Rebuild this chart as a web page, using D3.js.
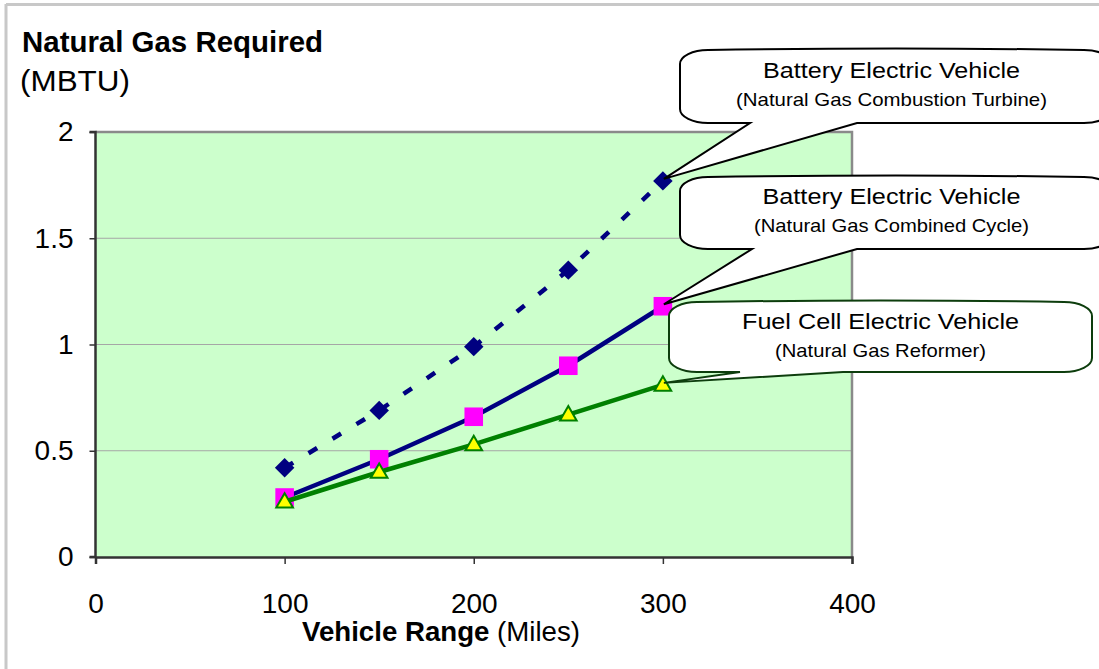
<!DOCTYPE html>
<html>
<head>
<meta charset="utf-8">
<script src="https://cdn.jsdelivr.net/npm/d3@7"></script>
<style>
  html, body { margin: 0; padding: 0; background: #fff; }
  svg { display: block; font-family: "Liberation Sans", Arial, sans-serif; }
</style>
</head>
<body>
<svg id="chart" width="1099" height="669"></svg>
<script>
// ---- data ----
const ranges = [100, 150, 200, 250, 300];
const turbine = [0.42, 0.69, 0.99, 1.35, 1.77];
const combinedCycle = [0.28, 0.46, 0.66, 0.90, 1.18];
const reformer = [0.26, 0.40, 0.53, 0.67, 0.81];
const xTicks = [0, 100, 200, 300, 400];
const yTicks = [0, 0.5, 1, 1.5, 2];
const yTickLabels = ["0", "0.5", "1", "1.5", "2"];
const calloutTitles = ["Battery Electric Vehicle", "Battery Electric Vehicle", "Fuel Cell Electric Vehicle"];
const calloutSubs = ["(Natural Gas Combustion Turbine)", "(Natural Gas Combined Cycle)", "(Natural Gas Reformer)"];

const svg = d3.select("#chart");
const plot = { left: 95.5, right: 852, top: 132, bottom: 557 };
const x = d3.scaleLinear().domain([0, 400]).range([plot.left, plot.right]);
const y = d3.scaleLinear().domain([0, 2]).range([plot.bottom, plot.top]);

// outer border
svg.append("line").attr("x1", 6).attr("x2", 6).attr("y1", 4).attr("y2", 669)
  .attr("stroke", "#c8c8c8").attr("stroke-width", 3);
svg.append("line").attr("x1", 6).attr("x2", 1099).attr("y1", 4.5).attr("y2", 4.5)
  .attr("stroke", "#c8c8c8").attr("stroke-width", 3);

// plot background
svg.append("rect").attr("x", plot.left).attr("y", plot.top)
  .attr("width", plot.right - plot.left).attr("height", plot.bottom - plot.top)
  .attr("fill", "#CCFFCC");

// gridlines
svg.append("g").selectAll("line").data(yTicks.filter(v => v > 0 && v < 2)).join("line")
  .attr("x1", plot.left).attr("x2", plot.right)
  .attr("y1", d => y(d)).attr("y2", d => y(d))
  .attr("stroke", "#a6a6a6").attr("stroke-width", 1.2);

// top & right border
svg.append("path")
  .attr("d", `M${plot.left},${y(2)} H${plot.right} V${plot.bottom}`)
  .attr("fill", "none").attr("stroke", "#8a8a8a").attr("stroke-width", 2.5);

// axes
const yAxis = d3.axisLeft(y).tickValues(yTicks).tickFormat((d, i) => yTickLabels[i])
  .tickSize(6).tickPadding(16);
const gy = svg.append("g").attr("transform", `translate(${plot.left},0)`).call(yAxis);
const xAxis = d3.axisBottom(x).tickValues(xTicks).tickFormat(d3.format("d"))
  .tickSize(7).tickPadding(29);
const gx = svg.append("g").attr("transform", `translate(0,${plot.bottom})`).call(xAxis);
[gx, gy].forEach(g => {
  g.select(".domain").attr("stroke", "#333").attr("stroke-width", 2.5);
  g.selectAll(".tick line").attr("stroke", "#333").attr("stroke-width", 1.5);
  g.selectAll(".tick text").attr("fill", "#000").attr("font-size", 28)
    .attr("font-family", "'Liberation Sans', Arial, sans-serif");
});
gy.select(".domain").attr("d", `M-6,${plot.top}H0V${plot.bottom}H-6`);

// titles
svg.append("text").attr("x", 22).attr("y", 52).attr("font-size", 29).attr("font-weight", "bold")
  .attr("textLength", 301).attr("lengthAdjust", "spacingAndGlyphs")
  .text("Natural Gas Required");
svg.append("text").attr("x", 20).attr("y", 91).attr("font-size", 30)
  .attr("textLength", 110).attr("lengthAdjust", "spacingAndGlyphs").text("(MBTU)");
const xt = svg.append("text").attr("x", 441).attr("y", 641).attr("text-anchor", "middle").attr("font-size", 28)
  .attr("textLength", 278).attr("lengthAdjust", "spacingAndGlyphs");
xt.append("tspan").attr("font-weight", "bold").text("Vehicle Range");
xt.append("tspan").text(" (Miles)");

// series
const line = d3.line().x((d, i) => x(ranges[i])).y(d => y(d));
function drawSeries(vals, color, dash) {
  svg.append("path").datum(vals).attr("d", line).attr("fill", "none")
    .attr("stroke", color).attr("stroke-width", 4.5)
    .attr("stroke-dasharray", dash || null);
}
function drawMarkers(vals, sym, size, fill, stroke, rot, dy) {
  svg.append("g").selectAll("path").data(vals).join("path")
    .attr("d", d3.symbol(sym, size)())
    .attr("transform", (d, i) => `translate(${x(ranges[i])},${y(d) + (dy || 0)}) rotate(${rot || 0})`)
    .attr("fill", fill).attr("stroke", stroke || "none").attr("stroke-width", stroke ? 2 : 0);
}
drawSeries(turbine, "#000080", "10,18");
drawMarkers(turbine, d3.symbolSquare, 190, "#000080", null, 45);
drawSeries(combinedCycle, "#000080");
drawMarkers(combinedCycle, d3.symbolSquare, 345, "#FF00FF");
drawSeries(reformer, "#008000");
drawMarkers(reformer, d3.symbolTriangle, 120, "#FFFF00", "#008000", 0, 1);

// callouts
const callouts = [
  { x0: 680, y0: 50, x1: 1112, y1: 123, b1: 750, b2: 857, i: 4, s: turbine, stroke: "#000",
    cx: 891.5, l1: 78, l2: 106, w1: 257, w2: 311 },
  { x0: 680, y0: 177, x1: 1112, y1: 249, b1: 752, b2: 857, i: 4, s: combinedCycle, stroke: "#000",
    cx: 891.5, l1: 204, l2: 232, w1: 258, w2: 275 },
  { x0: 669, y0: 302, x1: 1092, y1: 372, b1: 740, b2: 843, i: 4, s: reformer, stroke: "#0d3d0d",
    cx: 880.5, l1: 329, l2: 357, w1: 277, w2: 211 }
];
callouts.forEach((c, k) => {
  const tx = x(ranges[c.i]) + 1, ty = y(c.s[c.i]) - 2;
  const rx = 28, ry = 14;
  const d = `M${c.x0 + rx},${c.y0} Q${(c.x0 + c.x1) / 2},${c.y0 - 3} ${c.x1 - rx},${c.y0}` +
    ` A${rx},${ry} 0 0 1 ${c.x1},${c.y0 + ry} V${c.y1 - ry}` +
    ` A${rx},${ry} 0 0 1 ${c.x1 - rx},${c.y1} H${c.b2} L${tx},${ty} L${c.b1},${c.y1} H${c.x0 + rx}` +
    ` A${rx},${ry} 0 0 1 ${c.x0},${c.y1 - ry} V${c.y0 + ry} A${rx},${ry} 0 0 1 ${c.x0 + rx},${c.y0} Z`;
  svg.append("path").attr("d", d).attr("fill", "#fff").attr("stroke", c.stroke).attr("stroke-width", 2);
  svg.append("text").attr("x", c.cx).attr("y", c.l1).attr("text-anchor", "middle").attr("font-size", 22)
    .attr("textLength", c.w1).attr("lengthAdjust", "spacingAndGlyphs").text(calloutTitles[k]);
  svg.append("text").attr("x", c.cx).attr("y", c.l2).attr("text-anchor", "middle").attr("font-size", 18.5)
    .attr("textLength", c.w2).attr("lengthAdjust", "spacingAndGlyphs").text(calloutSubs[k]);
});
</script>
</body>
</html>
